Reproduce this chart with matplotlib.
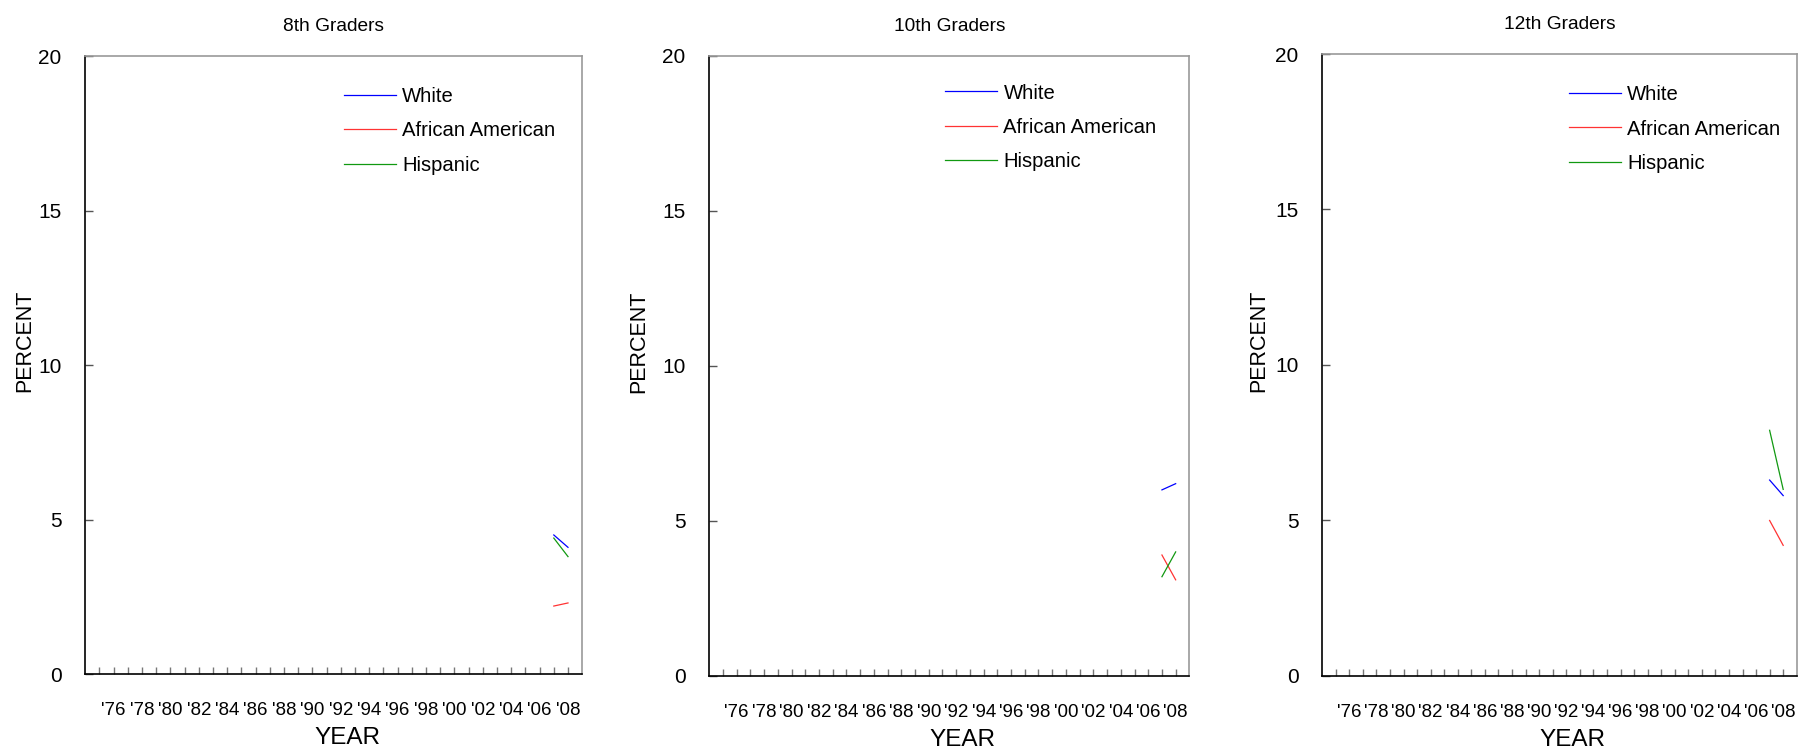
import numpy as np
import matplotlib
matplotlib.use("Agg")
import matplotlib.pyplot as plt
from matplotlib.ticker import FixedLocator

plt.rcParams['font.family'] = ['Liberation Sans', 'DejaVu Sans']

# data (only 2007 and 2008 are plotted in the reference)
years = [2007, 2008]
grades = ['8th Graders', '10th Graders', '12th Graders']
white = [[4.5, 4.1], [6.0, 6.2], [6.3, 5.8]]
african_american = [[2.2, 2.3], [3.9, 3.1], [5.0, 4.2]]
hispanic = [[4.4, 3.8], [3.2, 4.0], [7.9, 6.0]]

label_years = list(range(1976, 2009, 2))
tick_labels = ["'%02d" % (y % 100) for y in label_years]
minor_years = list(range(1975, 2009, 2))

fig = plt.figure(figsize=(17.98, 7.5), dpi=100)

# axes positions [left, bottom, width, height] in figure fraction
positions = [
    [0.0474, 0.1013, 0.2764, 0.8240],
    [0.3945, 0.0987, 0.2670, 0.8271],
    [0.7354, 0.0987, 0.2639, 0.8293],
]
legend_anchor = [(0.5205, 0.950), (0.491, 0.955), (0.52, 0.950)]
ylabel_x = [-0.121, -0.146, -0.133]

for i, grade in enumerate(grades):
    ax = fig.add_axes(positions[i])
    ax.plot(years, white[i], color='#0000ff', lw=0.9, label='White')
    ax.plot(years, african_american[i], color='#ff3333', lw=0.9, label='African American')
    ax.plot(years, hispanic[i], color='#119911', lw=0.9, label='Hispanic')

    ax.set_xlim(1974, 2009)
    ax.set_ylim(0, 20)
    ax.set_yticks([0, 5, 10, 15, 20])
    ax.xaxis.set_major_locator(FixedLocator(label_years))
    ax.xaxis.set_minor_locator(FixedLocator(minor_years))
    ax.set_xticklabels(tick_labels)

    ax.tick_params(axis='x', which='both', direction='in', length=5,
                   color='#777777', width=1, pad=20.5, labelsize=13.5)
    ax.tick_params(axis='y', direction='in', length=6, color='#555555',
                   width=1, pad=17, labelsize=15)

    for s in ['left', 'bottom']:
        ax.spines[s].set_color('black')
        ax.spines[s].set_linewidth(1.2)
    for s in ['top', 'right']:
        ax.spines[s].set_color('#999999')
        ax.spines[s].set_linewidth(1.2)

    ax.set_title(grade, fontsize=13.8, pad=18)
    ax.text(ylabel_x[i], 0.539, 'PERCENT', transform=ax.transAxes, rotation=90,
            ha='center', va='center', fontsize=15.5)
    ax.text(0.527, -0.103, 'YEAR', transform=ax.transAxes,
            ha='center', va='center', fontsize=17.5)

    ax.legend(loc='upper left', bbox_to_anchor=legend_anchor[i], frameon=False,
              fontsize=14.6, handlelength=2.58, handletextpad=0.3,
              labelspacing=0.76, borderpad=0, borderaxespad=0)

fig.savefig('out.png', dpi=100)
